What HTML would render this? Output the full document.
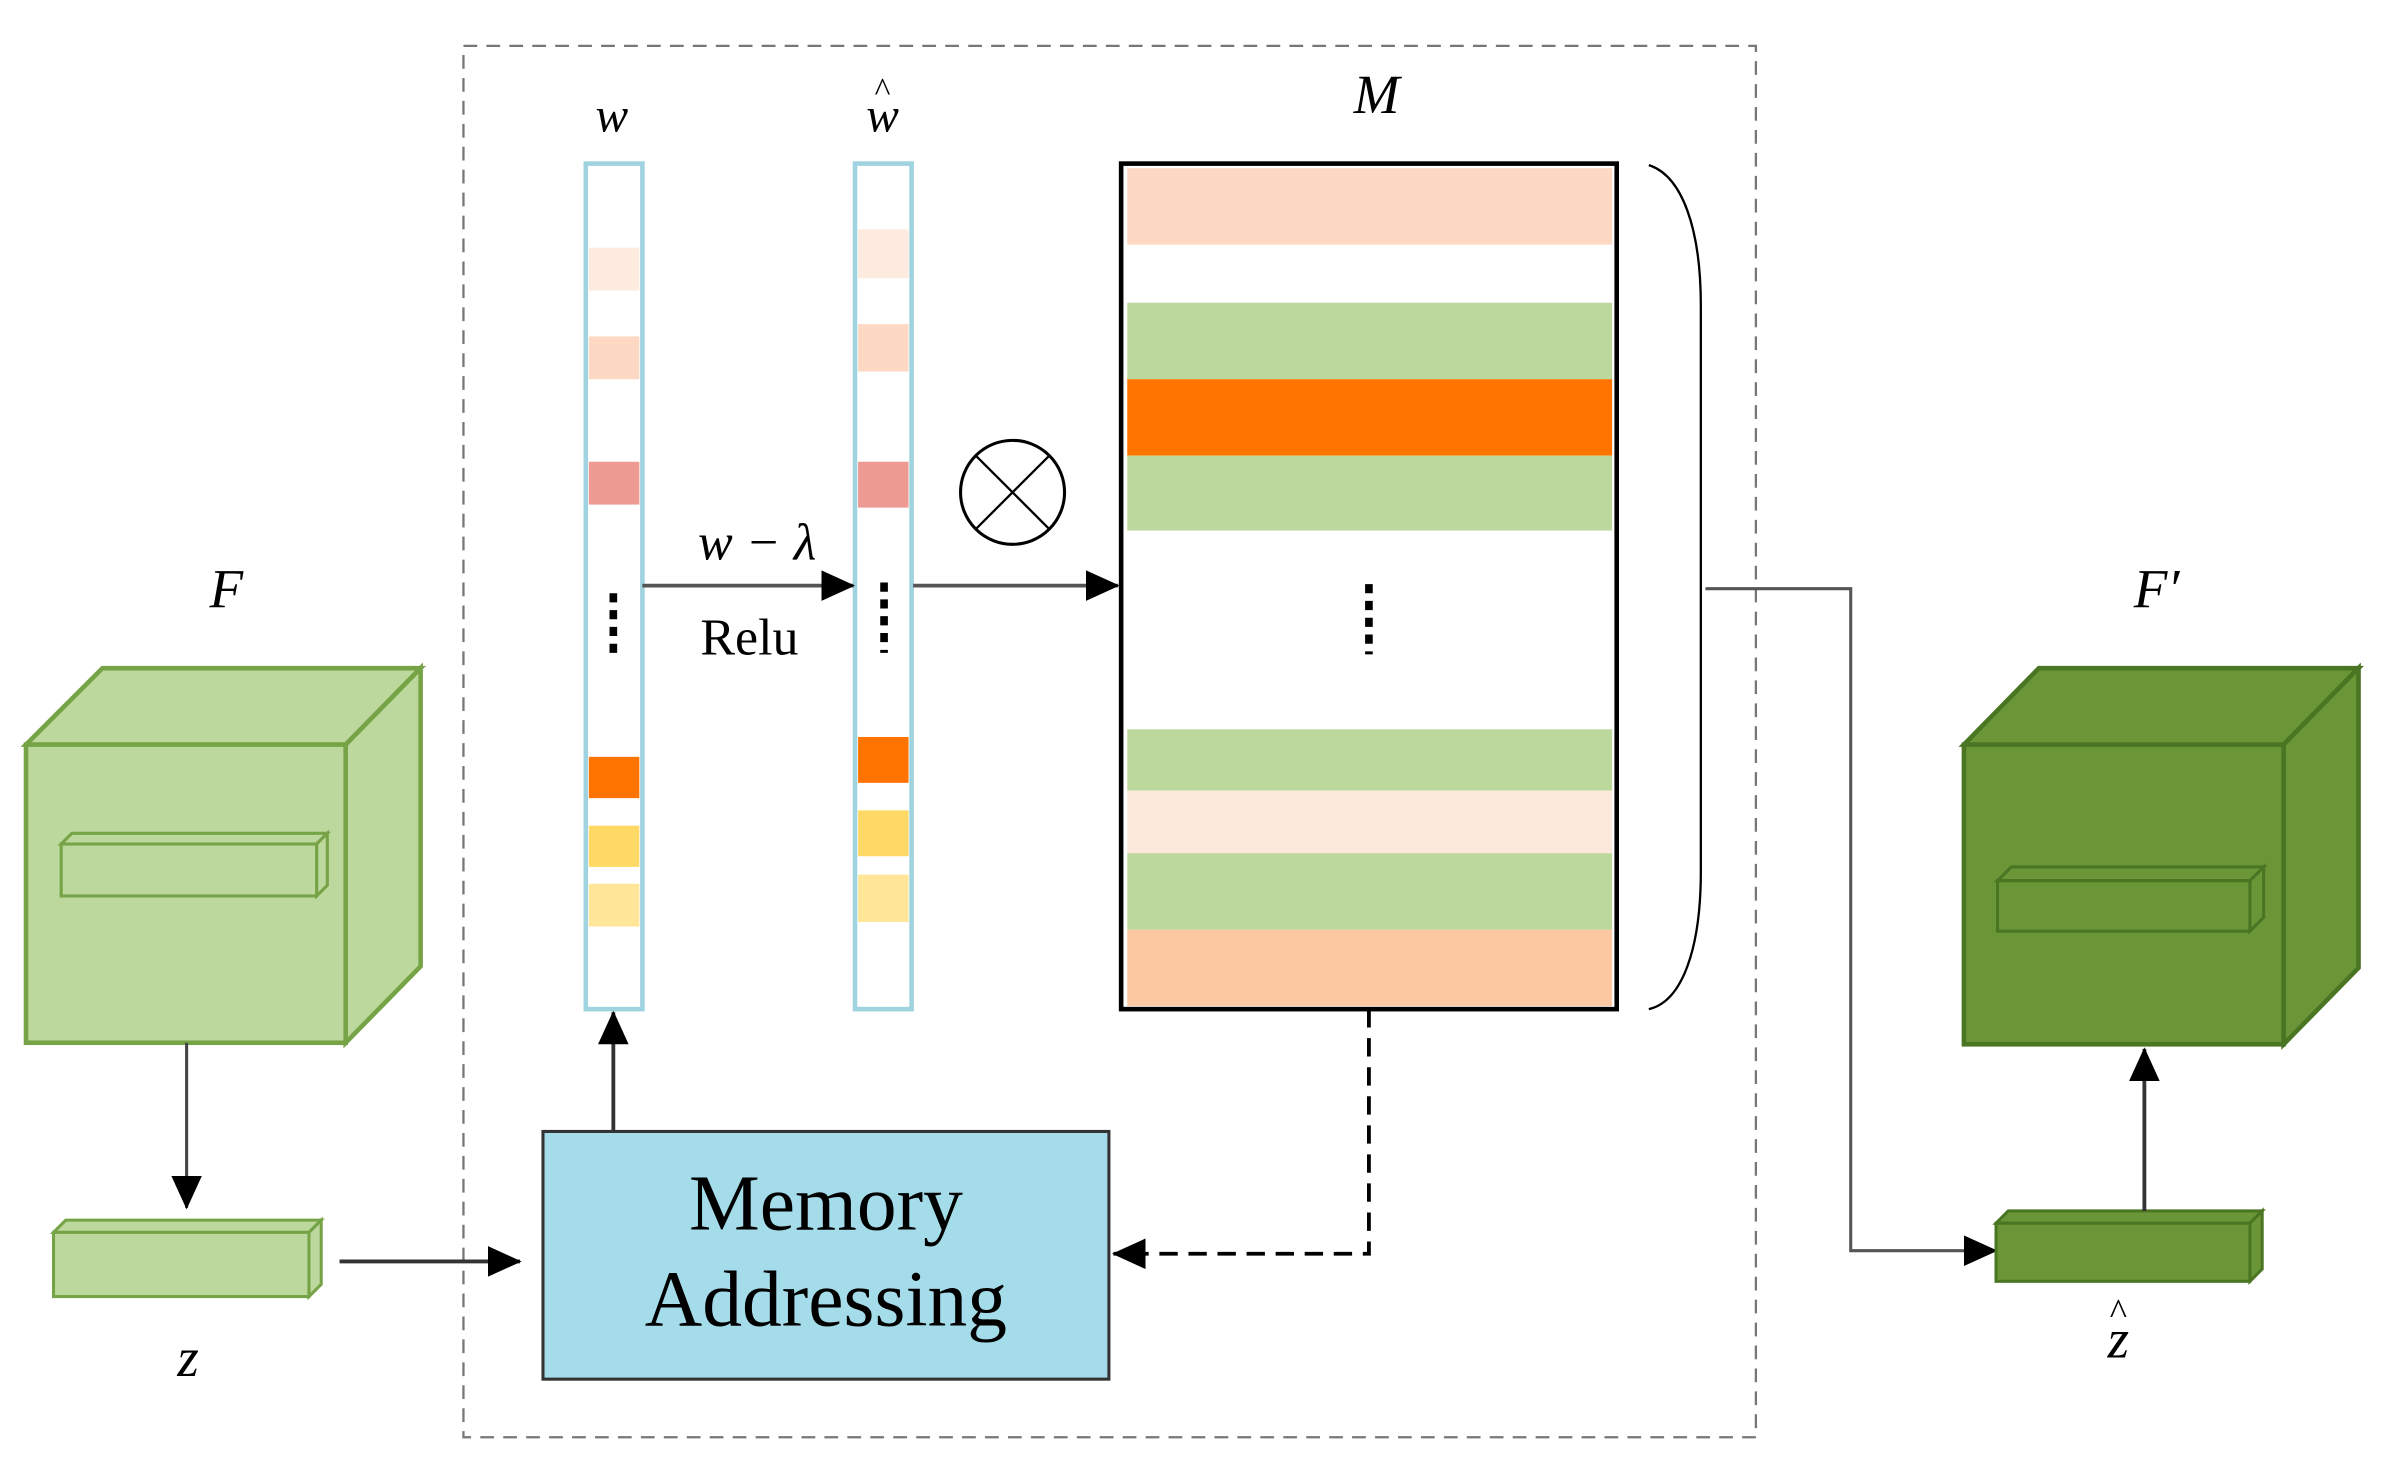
<!DOCTYPE html>
<html><head><meta charset="utf-8"><style>html,body{margin:0;padding:0;background:#fff}svg{display:block}</style></head>
<body>
<svg width="2383" height="1477" viewBox="0 0 1558 966" preserveAspectRatio="none" xmlns="http://www.w3.org/2000/svg" font-family="Liberation Serif, serif">
<defs>
<marker id="ah" markerWidth="10" markerHeight="10" refX="9" refY="5" orient="auto" markerUnits="userSpaceOnUse" viewBox="0 0 10 10"><path d="M0,0 L10,5 L0,10 z" fill="#000"/></marker>
<marker id="ab" markerWidth="22" markerHeight="20" refX="21" refY="10" orient="auto" markerUnits="userSpaceOnUse"><path d="M0,0 L22,10 L0,20 z" fill="#000"/></marker>
</defs>
<rect x="303" y="30" width="845" height="910" fill="none" stroke="#777" stroke-width="1.5" stroke-dasharray="9,6"/>

<!-- w bar -->
<rect x="383" y="107" width="37" height="553" fill="#fff" stroke="#9fd3df" stroke-width="3"/>
<rect x="385" y="162" width="33" height="28" fill="#fdebe0"/>
<rect x="385" y="220" width="33" height="28" fill="#fdd9c4"/>
<rect x="385" y="302" width="33" height="28" fill="#ec9a92"/>
<rect x="385" y="495" width="33" height="27" fill="#ff7300"/>
<rect x="385" y="540" width="33" height="27" fill="#ffd966"/>
<rect x="385" y="578" width="33" height="28" fill="#ffe699"/>
<line x1="401" y1="388" x2="401" y2="432" stroke="#000" stroke-width="5" stroke-dasharray="6,5"/>

<!-- w hat bar -->
<rect x="559" y="107" width="37" height="553" fill="#fff" stroke="#9fd3df" stroke-width="3"/>
<rect x="561" y="150" width="33" height="32" fill="#fdebe0"/>
<rect x="561" y="212" width="33" height="31" fill="#fdd9c4"/>
<rect x="561" y="302" width="33" height="30" fill="#ec9a92"/>
<rect x="561" y="482" width="33" height="30" fill="#ff7300"/>
<rect x="561" y="530" width="33" height="30" fill="#ffd966"/>
<rect x="561" y="572" width="33" height="31" fill="#ffe699"/>
<line x1="578" y1="381" x2="578" y2="427" stroke="#000" stroke-width="5" stroke-dasharray="6,5"/>

<text x="400" y="86" font-size="32" font-style="italic" text-anchor="middle">w</text>
<text x="577" y="86" font-size="32" font-style="italic" text-anchor="middle">w</text>
<text x="577" y="66" font-size="22" text-anchor="middle">^</text>
<text x="900" y="74" font-size="36" font-style="italic" text-anchor="middle">M</text>

<!-- M -->
<rect x="733" y="107" width="324" height="553" fill="#fff" stroke="#000" stroke-width="3"/>
<rect x="737" y="110" width="317" height="50" fill="#fdd9c4"/>
<rect x="737" y="198" width="317" height="50" fill="#bcd89c"/>
<rect x="737" y="248" width="317" height="50" fill="#ff7300"/>
<rect x="737" y="298" width="317" height="49" fill="#bcd89c"/>
<rect x="737" y="477" width="317" height="40" fill="#bcd89c"/>
<rect x="737" y="517" width="317" height="41" fill="#fde9dc"/>
<rect x="737" y="558" width="317" height="50" fill="#bcd89c"/>
<rect x="737" y="608" width="317" height="50" fill="#fcc8a2"/>
<line x1="895" y1="382" x2="895" y2="428" stroke="#000" stroke-width="5" stroke-dasharray="6,5"/>

<path d="M1078,108 C1100,115 1112,150 1112,200 L1112,570 C1112,620 1100,655 1078,660" fill="none" stroke="#000" stroke-width="1.5"/>

<circle cx="662" cy="322" r="34" fill="none" stroke="#000" stroke-width="2"/>
<line x1="638" y1="298" x2="686" y2="346" stroke="#000" stroke-width="1.5"/>
<line x1="686" y1="298" x2="638" y2="346" stroke="#000" stroke-width="1.5"/>

<line x1="420" y1="383" x2="558" y2="383" stroke="#555" stroke-width="2.5" marker-end="url(#ab)"/>
<line x1="597" y1="383" x2="731" y2="383" stroke="#555" stroke-width="2.5" marker-end="url(#ab)"/>
<text x="495" y="366" font-size="34" font-style="italic" text-anchor="middle">w − λ</text>
<text x="490" y="428" font-size="34" text-anchor="middle">Relu</text>

<polyline points="1115,385 1210,385 1210,818 1305,818" fill="none" stroke="#555" stroke-width="2" marker-end="url(#ab)"/>

<rect x="355" y="740" width="370" height="162" fill="#a5dcea" stroke="#333" stroke-width="2"/>
<text x="540" y="804" font-size="52" text-anchor="middle">Memory</text>
<text x="540" y="867" font-size="52" text-anchor="middle">Addressing</text>
<line x1="401" y1="740" x2="401" y2="662" stroke="#333" stroke-width="2.5" marker-end="url(#ab)"/>
<polyline points="895,660 895,820 728,820" fill="none" stroke="#000" stroke-width="2.5" stroke-dasharray="12,7" marker-end="url(#ab)"/>

<!-- F cube -->
<g fill="#bcd89c" stroke="#76a346" stroke-width="3" stroke-linejoin="miter">
<polygon points="17,487 67,437 275,437 226,487"/>
<polygon points="226,487 275,437 275,632 226,682"/>
<rect x="17" y="487" width="209" height="195"/>
<polygon points="40,552 47,545 214,545 207,552" stroke-width="2"/>
<polygon points="207,552 214,545 214,579 207,586" stroke-width="2"/>
<rect x="40" y="552" width="167" height="34" stroke-width="2"/>
</g>
<text x="148" y="397" font-size="36" font-style="italic" text-anchor="middle">F</text>
<line x1="122" y1="682" x2="122" y2="790" stroke="#444" stroke-width="2" marker-end="url(#ab)"/>
<g fill="#bcd89c" stroke="#76a346" stroke-width="2">
<polygon points="35,806 43,798 210,798 202,806"/>
<polygon points="202,806 210,798 210,840 202,848"/>
<rect x="35" y="806" width="167" height="42"/>
</g>
<text x="123" y="900" font-size="36" font-style="italic" text-anchor="middle">z</text>
<line x1="222" y1="825" x2="340" y2="825" stroke="#333" stroke-width="2.5" marker-end="url(#ab)"/>

<!-- F' cube -->
<g fill="#6b9638" stroke="#4a7522" stroke-width="3">
<polygon points="1284,487 1333,437 1542,437 1493,487"/>
<polygon points="1493,487 1542,437 1542,633 1493,683"/>
<rect x="1284" y="487" width="209" height="196"/>
<polygon points="1306,576 1315,567 1480,567 1471,576" stroke-width="2"/>
<polygon points="1471,576 1480,567 1480,600 1471,609" stroke-width="2"/>
<rect x="1306" y="576" width="165" height="33" stroke-width="2"/>
</g>
<text x="1410" y="397" font-size="36" font-style="italic" text-anchor="middle">F′</text>
<g fill="#6b9638" stroke="#4a7522" stroke-width="2">
<polygon points="1305,800 1313,792 1479,792 1471,800"/>
<polygon points="1471,800 1479,792 1479,830 1471,838"/>
<rect x="1305" y="800" width="166" height="38"/>
</g>
<line x1="1402" y1="792" x2="1402" y2="686" stroke="#333" stroke-width="2.5" marker-end="url(#ab)"/>
<text x="1385" y="888" font-size="36" font-style="italic" text-anchor="middle">z</text>
<text x="1385" y="866" font-size="24" text-anchor="middle">^</text>
</svg>
</body></html>
